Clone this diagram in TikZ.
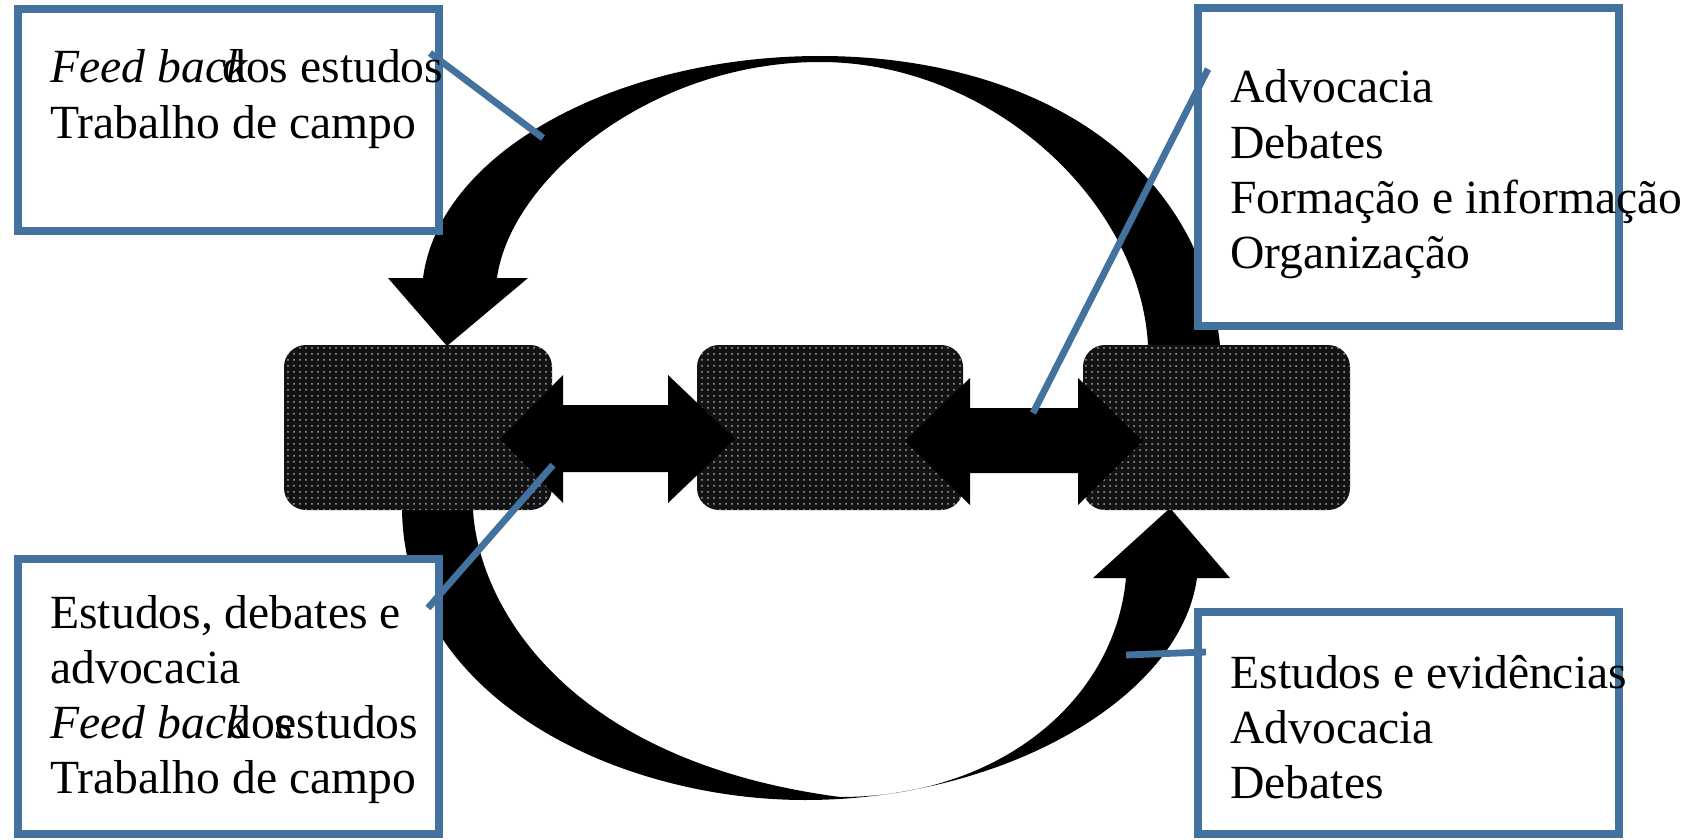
\documentclass[tikz,border=0pt]{standalone}
\usepackage{fontspec}
\setmainfont{Liberation Serif}
\usetikzlibrary{patterns}
\definecolor{callblue}{RGB}{67,114,158}
\definecolor{boxdark}{RGB}{18,18,20}
\tikzset{
  darkbox/.style={fill=boxdark, rounded corners=11pt, inner sep=0pt, minimum height=82.5pt,
    postaction={pattern=dots, pattern color=gray!70}},
  callout/.style={draw=callblue, line width=4pt, fill=white, inner sep=0pt},
  pointer/.style={draw=callblue, line width=3.4pt},
  bigarrow/.style={fill=black},
  txt/.style={inner sep=0pt, anchor=base west, font=\fontsize{23.8}{27.6}\selectfont}
}
\begin{document}
\begin{tikzpicture}[x=0.5pt,y=-0.5pt]
\useasboundingbox (0,0) rectangle (1699,840);

% top curved arrow (from right box over the top to the left box)
\path[bigarrow] (423,278) .. controls (440,150) and (620,56) .. (820,56)
  .. controls (1020,56) and (1200,150) .. (1220,345) -- (1220,390) -- (1148,390) -- (1148,345)
  .. controls (1140,200) and (990,62) .. (820,62)
  .. controls (650,62) and (510,180) .. (497,278)
  -- (528,278) -- (447,346) -- (388,278) -- cycle;

% bottom curved arrow (from left box under the bottom to the right box)
\path[bigarrow] (402,490) -- (402,510) .. controls (405,700) and (620,800) .. (805,800)
  .. controls (1000,800) and (1180,700) .. (1197,578)
  -- (1230,578) -- (1170,508) -- (1093,578) -- (1126,578)
  .. controls (1115,700) and (1000,797) .. (840,797)
  .. controls (560,760) and (478,600) .. (473,510) -- (473,490) -- cycle;

% dark boxes
\node[darkbox, minimum width=134pt] (A) at (418,427.5) {};
\node[darkbox, minimum width=133pt] (B) at (830,427.5) {};
\node[darkbox, minimum width=133.5pt] (C) at (1216.5,427.5) {};

% horizontal double arrows
\path[bigarrow] (500,439) -- (563,375) -- (563,405) -- (668,405) -- (668,375) -- (735,439)
  -- (668,503) -- (668,472) -- (563,472) -- (563,503) -- cycle;
\path[bigarrow] (905,441) -- (970,378) -- (970,408) -- (1078,408) -- (1078,378) -- (1143,441)
  -- (1078,505) -- (1078,473) -- (970,473) -- (970,505) -- cycle;

% callout boxes
\node[callout, minimum width=210.75pt, minimum height=111pt] (TL) at (228.25,120) {};
\node[callout, minimum width=210.75pt, minimum height=158.75pt] (TR) at (1408.25,167.25) {};
\node[callout, minimum width=210.75pt, minimum height=137.5pt] (BL) at (228.25,696.5) {};
\node[callout, minimum width=210.5pt, minimum height=111pt] (BR) at (1408.5,723) {};

% pointers
\coordinate (sTL) at (430,53);   \coordinate (eTL) at (543,138);
\coordinate (sTR) at (1208,69);  \coordinate (eTR) at (1033,413);
\coordinate (sBL) at (428,608);  \coordinate (eBL) at (553,465);
\coordinate (sBR) at (1206,652); \coordinate (eBR) at (1126,655);
\draw[pointer] (sTL) -- (eTL);
\draw[pointer] (sTR) -- (eTR);
\draw[pointer] (sBL) -- (eBL);
\draw[pointer] (sBR) -- (eBR);

% texts
\node[txt] (tTL) at (50,83) {\begin{tabular}[t]{@{}l@{}}
\makebox[0pt][l]{\textit{Feed back}}\hspace{86pt}dos estudos\\
Trabalho de campo
\end{tabular}};
\node[txt] (tTR) at (1230,103) {\begin{tabular}[t]{@{}l@{}}
Advocacia\\
Debates\\
Formação e informação\\
Organização
\end{tabular}};
\node[txt] (tBL) at (50,628) {\begin{tabular}[t]{@{}l@{}}
Estudos, debates e\\
advocacia\\
\makebox[0pt][l]{\textit{Feed back}}\hspace{88.5pt}\makebox[0pt][l]{dos}\hspace{24pt}estudos\\
Trabalho de campo
\end{tabular}};
\node[txt] (tBR) at (1230,688) {\begin{tabular}[t]{@{}l@{}}
Estudos e evidências\\
Advocacia\\
Debates
\end{tabular}};
\end{tikzpicture}
\end{document}
